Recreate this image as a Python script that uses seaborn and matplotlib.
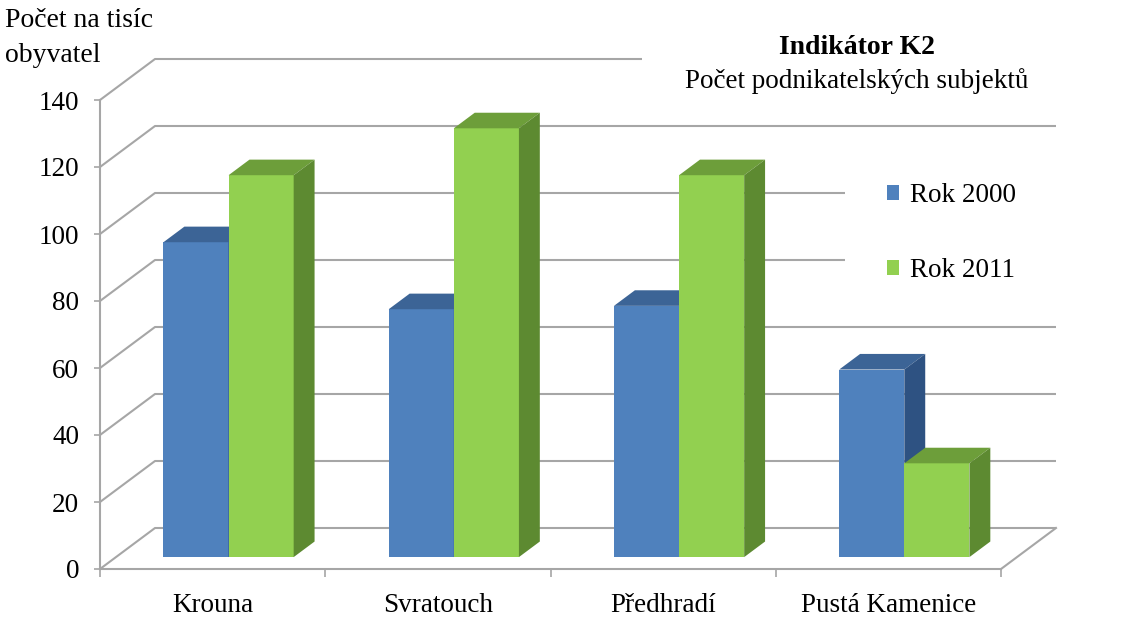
import matplotlib
matplotlib.use("Agg")
import matplotlib.pyplot as plt
from matplotlib.patches import Polygon, Rectangle, Patch
import seaborn as sns
import pandas as pd

# --- data -------------------------------------------------------------
obce = ["Krouna", "Svratouch", "Předhradí", "Pustá Kamenice"]
roky = ["Rok 2000", "Rok 2011"]
rok_2000 = [94, 74, 75, 56]
rok_2011 = [114, 128, 114, 28]
y_ticks = [0, 20, 40, 60, 80, 100, 120, 140]

df = pd.DataFrame({
    "obec": obce * 2,
    "rok": [roky[0]] * len(obce) + [roky[1]] * len(obce),
    "hodnota": rok_2000 + rok_2011,
})

# --- styling ----------------------------------------------------------
FONT = "Liberation Serif"
FS = 19.5
front = ["#4F81BD", "#92D050"]
top_c = ["#3C6496", "#6D9E3A"]
side_c = ["#2E5282", "#5D8A31"]
grid_c = "#A6A6A6"

W, H = 1121, 639
fig = plt.figure(figsize=(W / 100, H / 100), dpi=100)
fig.patch.set_facecolor("white")
ax = fig.add_axes([0, 0, 1, 1])
ax.set_facecolor("none")

sns.barplot(data=df, x="obec", y="hodnota", hue="rok", palette=front,
            width=0.578, saturation=1, legend=False, ax=ax)

# pixel anchors of the front plot plane (floor left/right, value scale)
px_left, px_right, py_zero, py_140 = 100, 1001, 569, 100
sx = (px_right - px_left) / len(obce)        # px per category
sy = (py_zero - py_140) / 140                # px per unit
ax.set_xlim(-0.5 - px_left / sx, -0.5 + (W - px_left) / sx)
ax.set_ylim(-(H - py_zero) / sy, py_zero / sy)

# oblique depth of the floor/back wall, and of the bars inside it
WX, WY = 55 / sx, 41 / sy
d0, dd = 0.29, 0.38
x0, x1 = -0.5, len(obce) - 0.5

# back wall gridlines and floor
for v in y_ticks:
    ax.plot([x0, x0 + WX, x1 + WX], [v, v + WY, v + WY],
            color=grid_c, lw=1.5, zorder=1, solid_capstyle="butt")
ax.plot([x1, x1 + WX], [0, WY], color=grid_c, lw=1.5, zorder=1)

# pseudo-3D boxes built on the seaborn bars
for i, cont in enumerate(ax.containers):
    z = 3 + i
    for bar in cont:
        x, w, h = bar.get_x(), bar.get_width(), bar.get_height()
        x += d0 * WX
        yb = d0 * WY
        bar.set_x(x)
        bar.set_y(yb)
        bar.set_zorder(z)
        bar.set_edgecolor("none")
        bx, by = dd * WX, dd * WY
        top = yb + h
        ax.add_patch(Polygon([(x, top), (x + w, top), (x + w + bx, top + by),
                              (x + bx, top + by)], closed=True,
                             facecolor=top_c[i], edgecolor="none", zorder=z))
        ax.add_patch(Polygon([(x + w, yb), (x + w + bx, yb + by),
                              (x + w + bx, top + by), (x + w, top)], closed=True,
                             facecolor=side_c[i], edgecolor="none", zorder=z))

# front axes
for s in ["top", "right"]:
    ax.spines[s].set_visible(False)
ax.spines["left"].set_position(("data", x0))
ax.spines["left"].set_bounds(0, 140)
ax.spines["bottom"].set_position(("data", 0))
ax.spines["bottom"].set_bounds(x0, x1)
for s in ["left", "bottom"]:
    ax.spines[s].set_color(grid_c)
    ax.spines[s].set_linewidth(1.5)
    ax.spines[s].set_zorder(2)

ax.set_yticks(y_ticks)
ax.set_yticklabels([str(t) for t in y_ticks], fontfamily=FONT, fontsize=FS)
ax.tick_params(axis="y", direction="out", length=4, width=1.2, color=grid_c, pad=11)
ax.set_xticks([x0 + k for k in range(len(obce) + 1)])
ax.set_xticklabels([])
ax.set_xticks(range(len(obce)), minor=True)
ax.set_xticklabels(obce, minor=True, fontfamily=FONT, fontsize=FS)
ax.tick_params(axis="x", which="major", direction="out", length=6, width=1.2, color=grid_c)
ax.tick_params(axis="x", which="minor", length=0, pad=17)
ax.set_xlabel("")
ax.set_ylabel("")
ax.grid(False)


def fx(px):
    return px / W


def fy(py):
    return 1 - py / H


# white backing for title and legend (inside the axes, under the legend)
for (l, t, r, b) in [(642, 30, 1075, 100), (845, 150, 1075, 292)]:
    ax.add_patch(Rectangle((fx(l), fy(b)), fx(r) - fx(l), fy(t) - fy(b),
                           transform=fig.transFigure, facecolor="white",
                           edgecolor="none", zorder=5, clip_on=False))

fig.text(fx(857), fy(48), "Indikátor K2", ha="center", va="center",
         fontfamily=FONT, fontsize=20, fontweight="bold", zorder=6)
fig.text(fx(857), fy(81), "Počet podnikatelských subjektů", ha="center", va="center",
         fontfamily=FONT, fontsize=FS, zorder=6)
fig.text(fx(5), fy(8), "Počet na tisíc\nobyvatel", ha="left", va="top",
         fontfamily=FONT, fontsize=20, linespacing=1.5, zorder=6)

handles = [Patch(facecolor=c, edgecolor="none") for c in front]
leg = ax.legend(handles, roky, loc="upper left", bbox_to_anchor=(fx(887), fy(183)),
                bbox_transform=fig.transFigure, frameon=False, borderpad=0,
                borderaxespad=0, handlelength=0.45, handleheight=0.45,
                handletextpad=0.4, labelspacing=1.85,
                prop={"family": FONT, "size": FS})
leg.set_zorder(7)

fig.savefig("out.png", dpi=100, facecolor="white")
